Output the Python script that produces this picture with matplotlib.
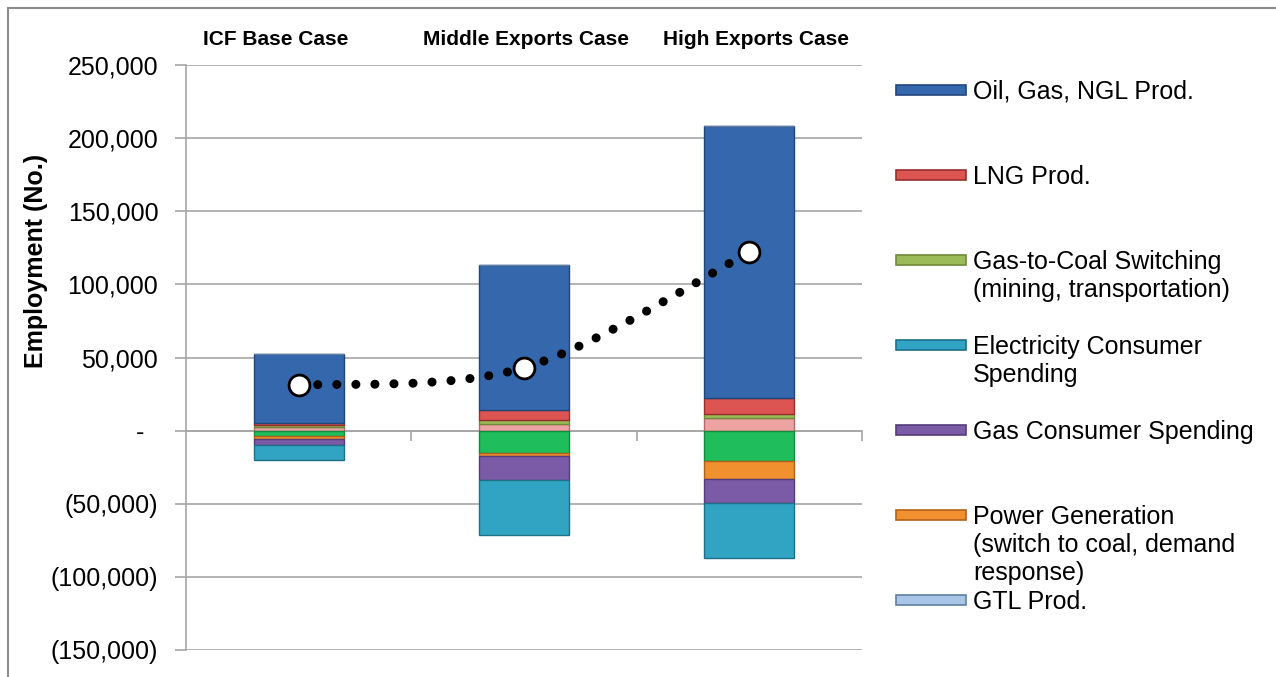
"""
Employment impact by case: stacked positive / negative contributions and the net total.
"""

import matplotlib
matplotlib.use("Agg")
import matplotlib.pyplot as plt
from matplotlib.patches import Rectangle, PathPatch
from matplotlib.path import Path
from matplotlib.ticker import FuncFormatter, MultipleLocator
import numpy as np

cases = ["ICF Base Case", "Middle Exports Case", "High Exports Case"]

# Stacked from zero outwards (positive part first, then negative part)
oil_gas_ngl = [47000, 99000, 186000]
lng_prod = [1600, 7400, 10800]
gas_to_coal = [1200, 2200, 3000]
other_upstream = [2400, 4800, 8500]      # pink segment, not named in the visible legend
gtl_prod = [0, 0, 0]
other_industry = [-4000, -15300, -21000]  # green segment, not named in the visible legend
power_generation = [-1800, -1800, -12000]
gas_consumer = [-4100, -16400, -16400]
electricity_consumer = [-10500, -37600, -37600]

net_employment = [31000, 43000, 122000]

positive_series = [
    ("_other_upstream", other_upstream, "#eda3a3", "#b06a6a"),
    ("Gas-to-Coal Switching\n(mining, transportation)", gas_to_coal, "#9bbb59", "#6f8a3a"),
    ("LNG Prod.", lng_prod, "#dc5552", "#962f2d"),
    ("Oil, Gas, NGL Prod.", oil_gas_ngl, "#3467ac", "#23467a"),
    ("GTL Prod.", gtl_prod, "#a9c6e6", "#5f7fa3"),
]
negative_series = [
    ("_other_industry", other_industry, "#1fbd5b", "#138a3e"),
    ("Power Generation\n(switch to coal, demand\nresponse)", power_generation, "#f0902f", "#b0621a"),
    ("Gas Consumer Spending", gas_consumer, "#7b5ba7", "#543d78"),
    ("Electricity Consumer\nSpending", electricity_consumer, "#31a3c3", "#1e7089"),
]

legend_order = [
    "Oil, Gas, NGL Prod.",
    "LNG Prod.",
    "Gas-to-Coal Switching\n(mining, transportation)",
    "Electricity Consumer\nSpending",
    "Gas Consumer Spending",
    "Power Generation\n(switch to coal, demand\nresponse)",
    "GTL Prod.",
]


def fmt_accounting(value, pos):
    if abs(value) < 1:
        return "-  "
    if value < 0:
        return f"({-value:,.0f})"
    return f"{value:,.0f}"


plt.rcParams["font.family"] = ["Liberation Sans", "DejaVu Sans"]

fig = plt.figure(figsize=(12.76, 6.77), dpi=100)
ax = fig.add_axes([0.1458, 0.0399, 0.5297, 0.864])

x = np.arange(len(cases))
bar_width = 0.40

colours = {}
pos_bottom = np.zeros(len(cases))
for label, values, face, edge in positive_series:
    values = np.array(values, dtype=float)
    ax.bar(x, values, bar_width, bottom=pos_bottom, color=face, edgecolor=edge,
           linewidth=1.0, zorder=3)
    pos_bottom += values
    colours[label] = (face, edge)

neg_bottom = np.zeros(len(cases))
for label, values, face, edge in negative_series:
    values = np.array(values, dtype=float)
    ax.bar(x, values, bar_width, bottom=neg_bottom, color=face, edgecolor=edge,
           linewidth=1.0, zorder=3)
    neg_bottom += values
    colours[label] = (face, edge)

# Smoothed dotted net line (Excel style smoothing through the three points)
px = x.astype(float)
py = np.array(net_employment, dtype=float)
verts = [(px[0], py[0])]
codes = [Path.MOVETO]
for i in range(len(px) - 1):
    p_prev = (px[i - 1], py[i - 1]) if i > 0 else (px[i], py[i])
    p_next = (px[i + 2], py[i + 2]) if i + 2 < len(px) else (px[i + 1], py[i + 1])
    c1 = (px[i] + (px[i + 1] - p_prev[0]) / 6, py[i] + (py[i + 1] - p_prev[1]) / 6)
    c2 = (px[i + 1] - (p_next[0] - px[i]) / 6, py[i + 1] - (p_next[1] - py[i]) / 6)
    verts += [c1, c2, (px[i + 1], py[i + 1])]
    codes += [Path.CURVE4, Path.CURVE4, Path.CURVE4]
net_line = PathPatch(Path(verts, codes), fill=False, edgecolor="black", linewidth=6.5,
                     linestyle=(0, (0.01, 2.1)), capstyle="round", zorder=4)
ax.add_patch(net_line)
ax.plot(px, py, linestyle="none", marker="o", markersize=15, markerfacecolor="white",
        markeredgecolor="black", markeredgewidth=2, zorder=5)

# Axes styling
ax.set_xlim(-0.5, 2.5)
ax.set_ylim(-150000, 250000)
ax.yaxis.set_major_locator(MultipleLocator(50000))
ax.yaxis.set_major_formatter(FuncFormatter(fmt_accounting))
ax.grid(axis="y", color="#a6a6a6", linewidth=1.2, zorder=0)
ax.set_axisbelow(True)
ax.tick_params(axis="y", labelsize=18, length=8, width=1.2, color="#a6a6a6", pad=12)
for side in ["top", "right"]:
    ax.spines[side].set_visible(False)
ax.spines["left"].set_color("#a6a6a6")
ax.spines["left"].set_linewidth(1.2)
ax.spines["bottom"].set_position(("data", 0))
ax.spines["bottom"].set_color("#a6a6a6")
ax.spines["bottom"].set_linewidth(1.2)
ax.set_xticks([0.5, 1.5, 2.5])
ax.set_xticklabels([])
ax.tick_params(axis="x", length=7, width=1.2, color="#a6a6a6")

fig.text(0.028, 0.614, "Employment (No.)", rotation=90, ha="center", va="center",
         fontsize=18, fontweight="bold")

# Case labels sit above the plot
label_x = [-0.1, 1.01, 2.03]
for xpos, name in zip(label_x, cases):
    ax.text(xpos, 1.043, name, transform=ax.get_xaxis_transform(), ha="center",
            va="center", fontsize=15, fontweight="bold")

# Legend drawn by hand to get the Excel spacing
fig_w, fig_h = 1276, 677
entry_y = 90
for name in legend_order:
    face, edge = colours[name]
    fig.patches.append(Rectangle((896 / fig_w, 1 - (entry_y + 5) / fig_h), 70 / fig_w, 10 / fig_h,
                                 transform=fig.transFigure, facecolor=face, edgecolor=edge,
                                 linewidth=1.2))
    fig.text(973 / fig_w, 1 - (entry_y - 10) / fig_h, name, ha="left", va="top",
             fontsize=18, linespacing=1.2)
    entry_y += 85

# Thin grey frame around the chart
fig.patches.append(Rectangle((8 / fig_w, -0.05), 1.1, 1 - 8 / fig_h + 0.05,
                             transform=fig.transFigure, fill=False, edgecolor="#8c8c8c",
                             linewidth=1.5))

plt.savefig("out.png", dpi=100)
plt.close()
